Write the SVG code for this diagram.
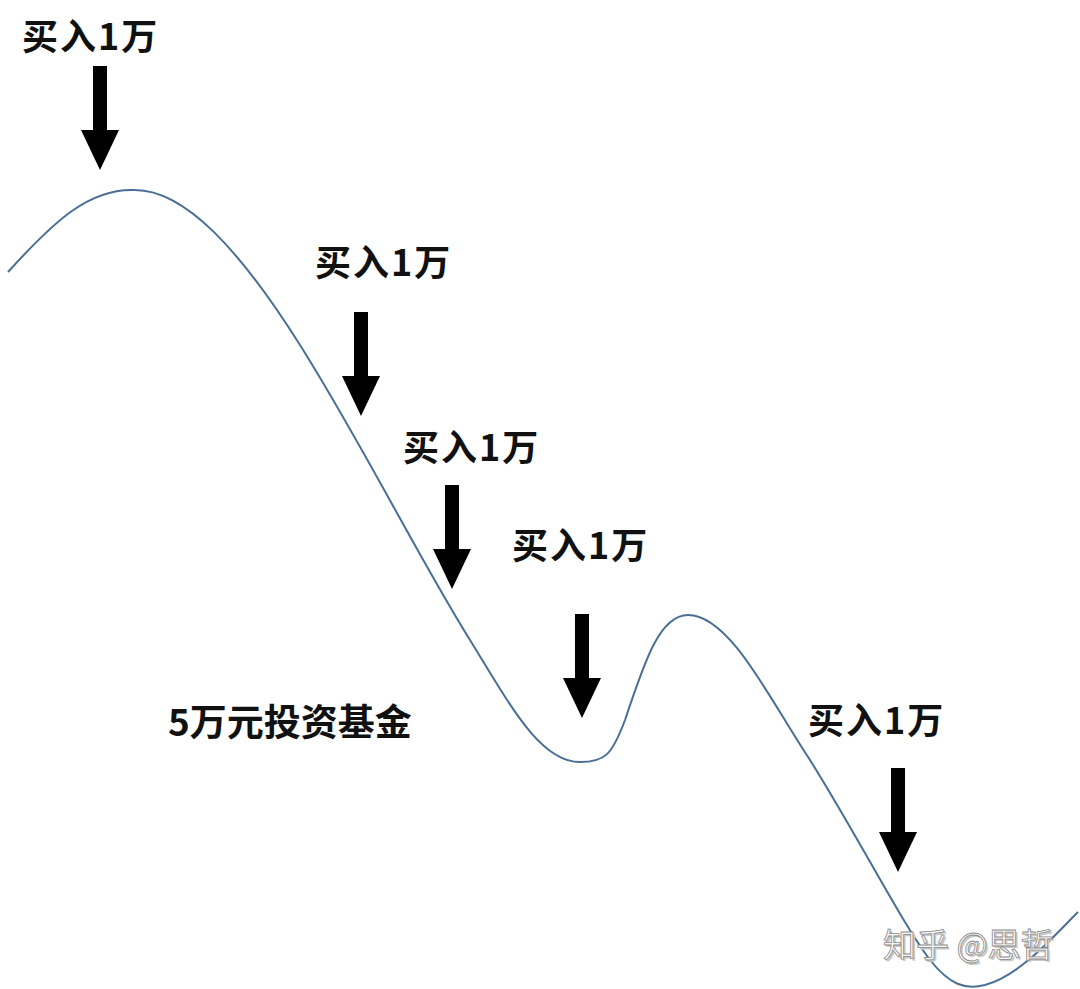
<svg xmlns="http://www.w3.org/2000/svg" width="1080" height="989" viewBox="0 0 1080 989">
<style>
.lbl{font-family:"Noto Sans CJK SC","Liberation Sans",sans-serif;font-weight:bold;font-size:36px;fill:#111;letter-spacing:2px}
.arr{fill:#000}
.wm{font-family:"Noto Sans CJK SC",sans-serif;font-size:33px;fill:#f6f6f6;stroke:#8a8a8a;stroke-width:0.8}
.wms{font-family:"Noto Sans CJK SC",sans-serif;font-size:33px;fill:#c8c8c8}
</style>
<defs>
<path id="arrow" class="arr" d="M -7,0 H 7 V 64 H 19 L 0,104 L -19,64 H -7 Z"/>
</defs>
<rect width="1080" height="989" fill="#fff"/>
<g id="curve">
<path d="M 8,272 C 55,220 90,188 135,190 C 185,190 240,250 300,345 C 360,440 420,560 470,640 C 510,705 540,762 580,762 C 605,762 612,755 625,720 C 645,660 660,615 688,615 C 730,615 770,700 810,760 C 860,840 900,920 930,960 C 950,985 965,990 985,985 C 1020,975 1050,940 1078,912" fill="none" stroke="#4a6f96" stroke-width="2"/>
</g>
<g id="connectors">
<use href="#arrow" x="100" y="66"/>
<use href="#arrow" x="361" y="312"/>
<use href="#arrow" x="452" y="485"/>
<use href="#arrow" x="582" y="614"/>
<use href="#arrow" x="898" y="768"/>
</g>
<g id="label1"><text class="lbl" x="22" y="50">买入1万</text></g>
<g id="label2"><text class="lbl" x="315" y="276">买入1万</text></g>
<g id="label3"><text class="lbl" x="403" y="461">买入1万</text></g>
<g id="label4"><text class="lbl" x="512" y="559">买入1万</text></g>
<g id="label5"><text class="lbl" x="808" y="734">买入1万</text></g>
<g id="title"><text class="lbl" x="168" y="736" style="font-size:37px;letter-spacing:0">5万元投资基金</text></g>
<g id="watermark">
<text class="wms" x="885" y="959">知乎 @思哲</text>
<text class="wm" x="883" y="957">知乎 @思哲</text>
</g>
</svg>
